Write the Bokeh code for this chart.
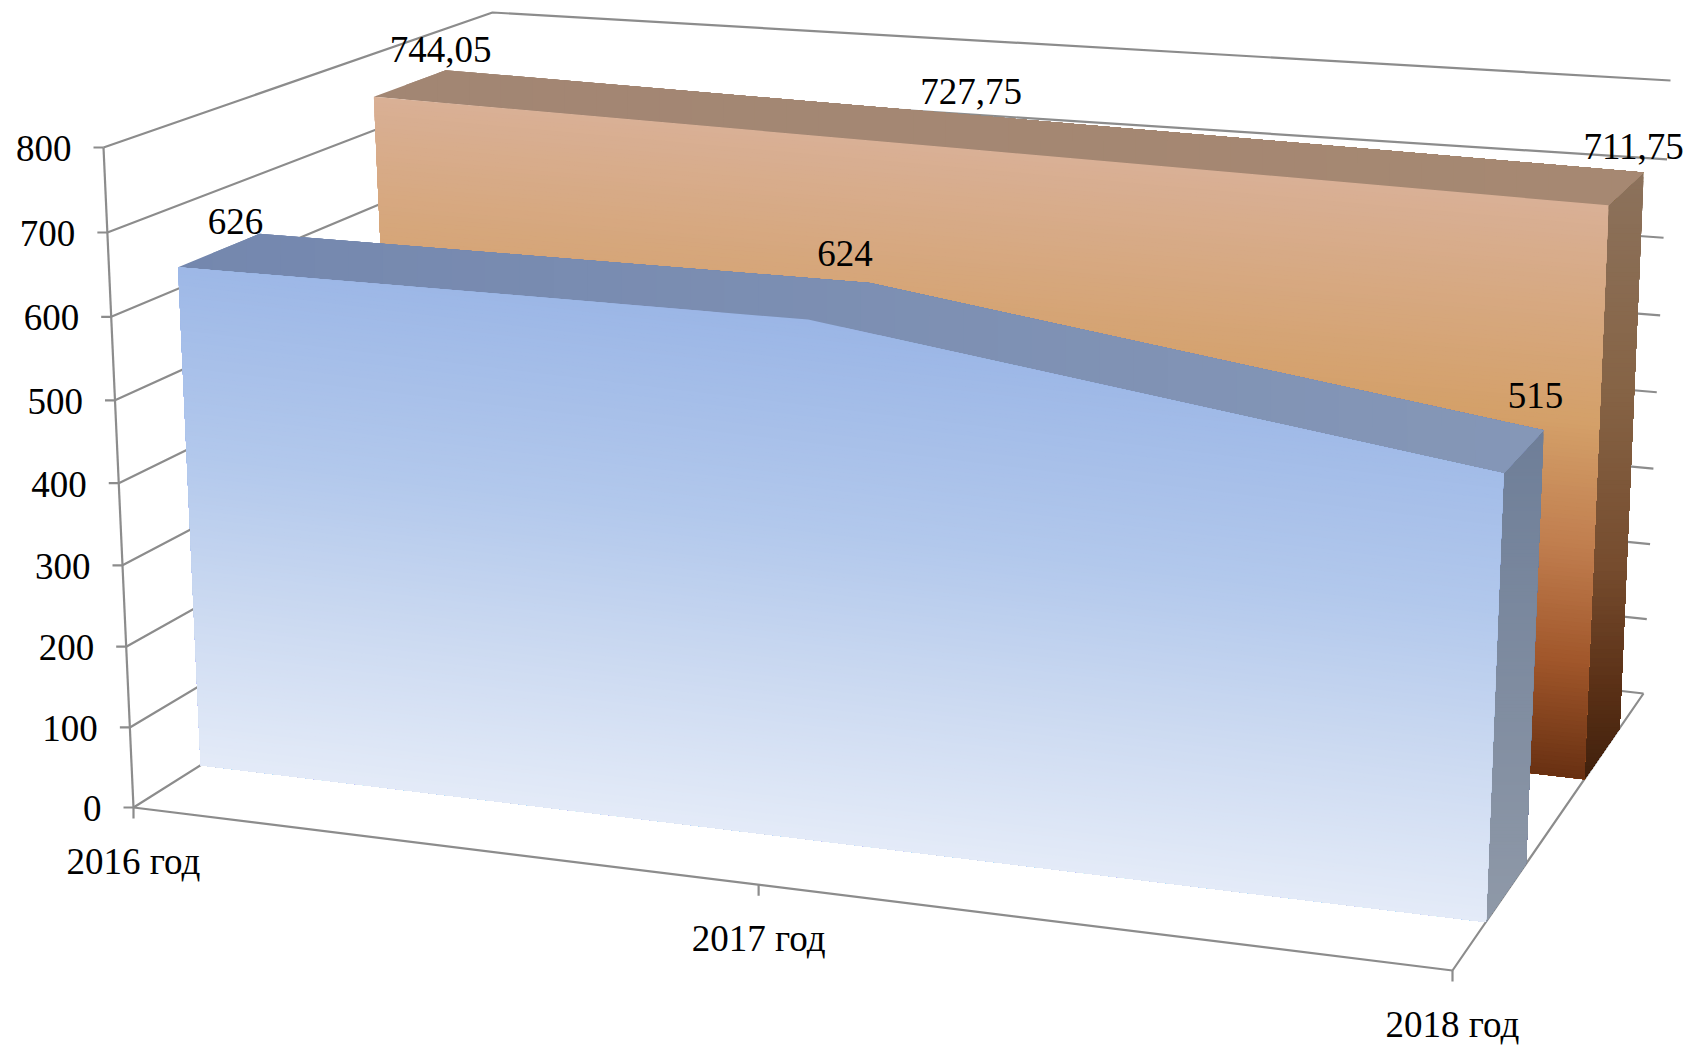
from bokeh.plotting import figure
from bokeh.models import Range1d
from bokeh.core.properties import value
from bokeh.embed import file_html
from bokeh.resources import INLINE

# ---- data ----
categories = ["2016 год", "2017 год", "2018 год"]
series_front = [626, 624, 515]
series_back = [744.05, 727.75, 711.75]
labels_front = ["626", "624", "515"]
labels_back = ["744,05", "727,75", "711,75"]
y_ticks = [0, 100, 200, 300, 400, 500, 600, 700, 800]
y_max = 800

# ---- 3D projection of the chart box onto the page (layout only) ----
W, H = 1695, 1045
FLB, FLT = (133, 807), (103, 147)
FRB, FRT = (1452, 970), (1480, 245)
BLB, BLT = (517, 565), (492, 12)
BRB, BRT = (1643, 693), (1670, 80)
PERSP = 1.11
PERSP_V = 1.035
DEPTH_FRONT = (0.175, 0.385)
DEPTH_BACK = (0.69, 0.875)
FRONT_LABEL_SHIFT = [(-24, -12), (-25, -30), (-8, -35)]
BACK_LABEL_SHIFT = [(-5, -21), (-43, -27), (-10, -26)]


def lerp(a, b, f):
    return (a[0] + (b[0] - a[0]) * f, a[1] + (b[1] - a[1]) * f)


def project(t, v, d):
    s = t / (t + PERSP * (1 - t)) if t > 0 else 0.0
    u = v / y_max
    f = u / (u + PERSP_V * (1 - u)) if u > 0 else 0.0
    front = lerp(lerp(FLB, FRB, s), lerp(FLT, FRT, s), f)
    back = lerp(lerp(BLB, BRB, s), lerp(BLT, BRT, s), f)
    return lerp(front, back, d)


def clip(poly, n, c):
    """keep the part of poly where n.p >= c"""
    out = []
    m = len(poly)
    for i in range(m):
        a, b = poly[i], poly[(i + 1) % m]
        da = n[0] * a[0] + n[1] * a[1] - c
        db = n[0] * b[0] + n[1] * b[1] - c
        if da >= 0:
            out.append(a)
        if (da >= 0) != (db >= 0):
            out.append(lerp(a, b, da / (da - db)))
    return out


def ramp(stops, f):
    f = max(0.0, min(1.0, f))
    for (f0, c0), (f1, c1) in zip(stops, stops[1:]):
        if f <= f1:
            g = (f - f0) / (f1 - f0)
            return tuple(round(c0[i] + (c1[i] - c0[i]) * g) for i in range(3))
    return stops[-1][1]


def draw_gradient(p, poly, n, stops, bands=140):
    proj = [n[0] * q[0] + n[1] * q[1] for q in poly]
    lo, hi = min(proj), max(proj)
    xs, ys, cols = [], [], []
    for k in range(bands):
        c = lo + (hi - lo) * k / bands
        part = clip(poly, n, c)
        if len(part) < 3:
            continue
        xs.append([q[0] for q in part])
        ys.append([q[1] for q in part])
        r, g, b = ramp(stops, (k + 0.5) / bands)
        cols.append("#%02x%02x%02x" % (r, g, b))
    p.patches(xs, ys, fill_color=cols, line_color=None)


def draw_series(p, vals, depth, front_stops, cap_stops, side_stops, tilt):
    ts = [i / (len(vals) - 1) for i in range(len(vals))]
    d0, d1 = depth
    top_f = [project(t, v, d0) for t, v in zip(ts, vals)]
    top_b = [project(t, v, d1) for t, v in zip(ts, vals)]
    draw_gradient(p, [top_f[-1], top_b[-1], project(1, 0, d1), project(1, 0, d0)], (0.0, 1.0), side_stops)
    draw_gradient(p, top_f + top_b[::-1], (1.0, 0.0), cap_stops, bands=40)
    front = top_f + [project(1, 0, d0), project(0, 0, d0)]
    draw_gradient(p, front, (-tilt, 1.0), front_stops)


p = figure(width=W, height=H, x_range=Range1d(0, W), y_range=Range1d(H, 0),
           output_backend="svg", toolbar_location=None, min_border=0,
           background_fill_color="white", border_fill_color="white", outline_line_color=None)
p.axis.visible = False
p.grid.visible = False

GRID = "#8c8c8c"
LW = 2.2
# gridlines on the side and back walls
for v in y_ticks:
    a, b, c = project(0, v, 0), project(0, v, 1), project(1, v, 1)
    p.line([a[0], b[0], c[0]], [a[1], b[1], c[1]], line_color=GRID, line_width=LW)
# value axis with ticks
a, b = project(0, 0, 0), project(0, y_max, 0)
p.line([a[0], b[0]], [a[1], b[1]], line_color=GRID, line_width=LW)
for v in y_ticks:
    q = project(0, v, 0)
    p.line([q[0] - 10, q[0]], [q[1], q[1]], line_color=GRID, line_width=LW)
# floor
a, b, c = project(0, 0, 0), project(1, 0, 0), project(1, 0, 1)
p.line([a[0], b[0], c[0]], [a[1], b[1], c[1]], line_color=GRID, line_width=LW)
ts = [i / (len(categories) - 1) for i in range(len(categories))]
for t in ts:
    q = project(t, 0, 0)
    p.line([q[0], q[0]], [q[1], q[1] + 11], line_color=GRID, line_width=LW)

draw_series(p, series_back, DEPTH_BACK,
            [(0, (217, 176, 150)), (0.38, (212, 160, 105)), (0.6, (192, 125, 78)),
             (0.8, (160, 86, 42)), (1, (104, 48, 18))],
            [(0, (162, 134, 115)), (1, (166, 136, 114))],
            [(0, (140, 114, 92)), (0.35, (134, 100, 70)), (0.65, (118, 76, 46)),
             (0.85, (90, 48, 22)), (1, (64, 32, 12))],
            0.09)
draw_series(p, series_front, DEPTH_FRONT,
            [(0, (155, 182, 230)), (0.4, (178, 200, 236)), (0.7, (204, 218, 241)), (1, (228, 235, 248))],
            [(0, (116, 135, 174)), (1, (133, 151, 183))],
            [(0, (110, 126, 152)), (1, (143, 153, 168))],
            0.12)

FONT = value("Liberation Serif")
SIZE = "37px"
tick_pts = [project(0, v, 0) for v in y_ticks]
p.text([q[0] - 32 for q in tick_pts], [q[1] + 1 for q in tick_pts], text=[str(v) for v in y_ticks],
       text_font=FONT, text_font_size=SIZE, text_align="right", text_baseline="alphabetic",
       text_color="black")
cat_pts = [project(t, 0, 0) for t in ts]
p.text([q[0] for q in cat_pts], [q[1] + 54 for q in cat_pts], text=categories,
       text_font=FONT, text_font_size=SIZE, text_align="center", text_baseline="alphabetic",
       text_color="black")
for vals, labs, depth, shift in ((series_back, labels_back, DEPTH_BACK, BACK_LABEL_SHIFT),
                                 (series_front, labels_front, DEPTH_FRONT, FRONT_LABEL_SHIFT)):
    pts = [project(t, v, depth[1]) for t, v in zip(ts, vals)]
    p.text([q[0] + s[0] for q, s in zip(pts, shift)], [q[1] + s[1] for q, s in zip(pts, shift)], text=labs,
           text_font=FONT, text_font_size=SIZE, text_align="center", text_baseline="alphabetic",
           text_color="black")

open("out.html", "w").write(file_html(p, INLINE))
